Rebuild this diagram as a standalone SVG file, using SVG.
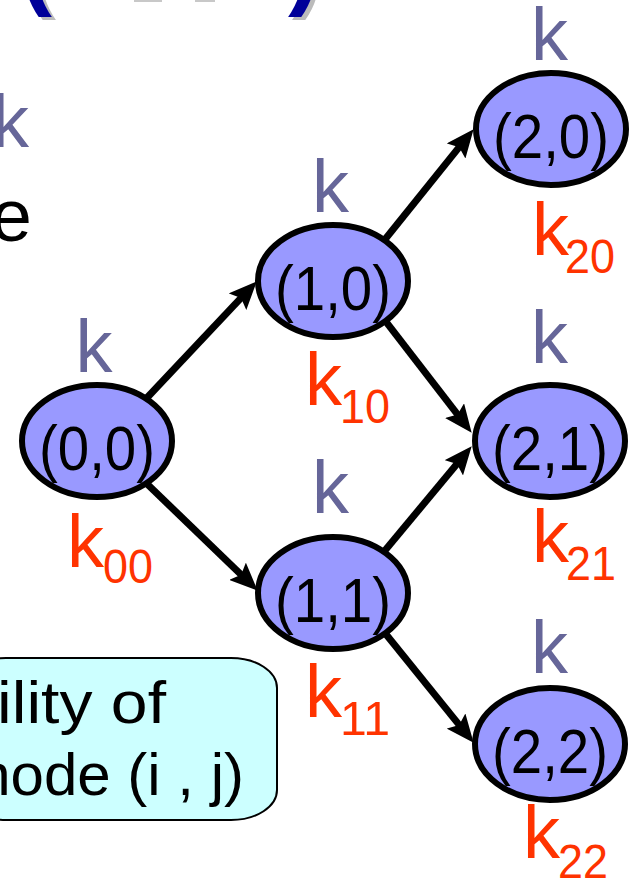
<svg xmlns="http://www.w3.org/2000/svg" width="634" height="880" viewBox="0 0 634 880">
<style>
text { font-family: "Liberation Sans", Arial, sans-serif; }
.node ellipse { fill: #9999FF; stroke: #000; stroke-width: 6; }
.lbl { font-size: 63px; fill: #000; text-anchor: middle; }
.kt { font-size: 74px; fill: #666699; text-anchor: middle; }
.kr { font-size: 74px; fill: #FF3300; }
.sub { font-size: 49px; fill: #FF3300; }
.title { font-size: 96px; font-weight: bold; fill: #000099; }
.shadow { font-size: 96px; font-weight: bold; fill: #BBBBBB; }
.edge { stroke: #000; stroke-width: 7; fill: none; marker-end: url(#arr); }
.note { font-size: 60px; fill: #000; }
</style>
<defs>
<marker id="arr" viewBox="0 0 28 24" markerWidth="28" markerHeight="24" refX="13" refY="12" orient="auto" markerUnits="userSpaceOnUse">
<path d="M0,0 L28,12 L0,24 L5,12 z" fill="#000"/>
</marker>
</defs>
<rect width="634" height="880" fill="#fff"/>

<g id="title">
<text class="shadow" x="24" y="0">(</text>
<text class="shadow" x="292" y="0">)</text>
<rect x="134" y="0" width="28" height="2" fill="#C8C8C8"/>
<rect x="195" y="0" width="20" height="2" fill="#C8C8C8"/>
<text class="title" x="20" y="-3">(</text>
<text class="title" x="288" y="-3">)</text>
</g>

<g id="left-text">
<text x="29" y="147" style="font-size:74px;fill:#666699;text-anchor:end">k</text>
<text x="32" y="241" style="font-size:74px;fill:#000;text-anchor:end">e</text>
</g>

<g id="callout">
<rect x="-40" y="658" width="317" height="162" rx="46" ry="30" fill="#CCFFFF" stroke="#000" stroke-width="2"/>
<text class="note" x="-3" y="723" textLength="169" lengthAdjust="spacingAndGlyphs">ility of</text>
<text class="note" x="244" y="795" text-anchor="end">node (i , j)</text>
</g>

<g id="connectors">
<line class="edge" x1="143" y1="402" x2="246.5" y2="292.2"/>
<line class="edge" x1="143" y1="480" x2="246.9" y2="580.3"/>
<line class="edge" x1="380.7" y1="244.8" x2="464.2" y2="140.9"/>
<line class="edge" x1="380.9" y1="315.1" x2="462.5" y2="420.9"/>
<line class="edge" x1="380.6" y1="555.7" x2="462.1" y2="457.8"/>
<line class="edge" x1="378.7" y1="625.2" x2="464.2" y2="731.1"/>
</g>

<g id="n00" class="node">
<ellipse cx="97" cy="441" rx="75" ry="56"/>
<text class="lbl" x="97" y="470" textLength="116" lengthAdjust="spacingAndGlyphs">(0,0)</text>
<text class="kt" x="94" y="372">k</text>
<text class="kr" x="67" y="567">k</text>
<text class="sub" x="103" y="583" textLength="50" lengthAdjust="spacingAndGlyphs">00</text>
</g>

<g id="n10" class="node">
<ellipse cx="333" cy="281" rx="75" ry="56"/>
<text class="lbl" x="333" y="310" textLength="116" lengthAdjust="spacingAndGlyphs">(1,0)</text>
<text class="kt" x="330.5" y="212">k</text>
<text class="kr" x="305" y="405">k</text>
<text class="sub" x="340" y="423" textLength="50" lengthAdjust="spacingAndGlyphs">10</text>
</g>

<g id="n11" class="node">
<ellipse cx="333" cy="593" rx="75" ry="56"/>
<text class="lbl" x="333" y="622" textLength="116" lengthAdjust="spacingAndGlyphs">(1,1)</text>
<text class="kt" x="330.5" y="513">k</text>
<text class="kr" x="305" y="717">k</text>
<text class="sub" x="340" y="735" textLength="50" lengthAdjust="spacingAndGlyphs">11</text>
</g>

<g id="n20" class="node">
<ellipse cx="551" cy="129" rx="75" ry="56"/>
<text class="lbl" x="551" y="158" textLength="116" lengthAdjust="spacingAndGlyphs">(2,0)</text>
<text class="kt" x="549.5" y="60">k</text>
<text class="kr" x="532" y="255">k</text>
<text class="sub" x="565" y="273" textLength="50" lengthAdjust="spacingAndGlyphs">20</text>
</g>

<g id="n21" class="node">
<ellipse cx="550" cy="441" rx="75" ry="56"/>
<text class="lbl" x="550" y="470" textLength="116" lengthAdjust="spacingAndGlyphs">(2,1)</text>
<text class="kt" x="549.5" y="363">k</text>
<text class="kr" x="532" y="562">k</text>
<text class="sub" x="566" y="580" textLength="50" lengthAdjust="spacingAndGlyphs">21</text>
</g>

<g id="n22" class="node">
<ellipse cx="550" cy="744" rx="75" ry="56"/>
<text class="lbl" x="550" y="773" textLength="116" lengthAdjust="spacingAndGlyphs">(2,2)</text>
<text class="kt" x="549.5" y="673">k</text>
<text class="kr" x="523" y="858">k</text>
<text class="sub" x="558" y="878" textLength="50" lengthAdjust="spacingAndGlyphs">22</text>
</g>
</svg>
